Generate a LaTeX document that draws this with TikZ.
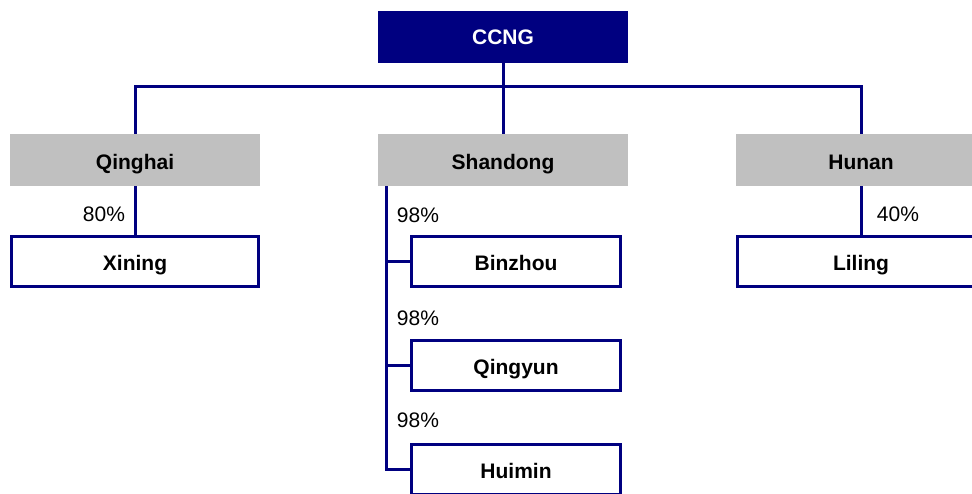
\documentclass[tikz,border=0pt]{standalone}
\usepackage{fontspec}
\setmainfont{Liberation Sans}
\definecolor{ccnavy}{RGB}{0,0,128}
\definecolor{ccgray}{RGB}{192,192,192}
\tikzset{
  topbox/.style={rectangle, fill=ccnavy, text=white, minimum width=250pt, minimum height=52pt, inner sep=0pt, text height=15.2pt, text depth=0pt, font=\fontsize{21}{25}\selectfont\bfseries},
  provbox/.style={rectangle, fill=ccgray, minimum width=250pt, minimum height=52pt, inner sep=0pt, text height=19.6pt, text depth=0pt, font=\fontsize{21}{25}\selectfont\bfseries},
  citybox/.style={rectangle, draw=ccnavy, line width=3pt, fill=white, minimum width=#1, minimum height=50pt, inner sep=0pt, text height=18pt, text depth=0pt, font=\fontsize{21}{25}\selectfont\bfseries},
  citybox/.default=247pt,
  link/.style={draw=ccnavy, line width=3pt},
  share/.style={inner sep=0pt, font=\fontsize{21}{25}\selectfont}
}
\begin{document}
\begin{tikzpicture}[x=1pt, y=-1pt]
  \useasboundingbox (0,0) rectangle (972,493);
  \clip (0,0) rectangle (972,493);
  % boxes
  \node[topbox] (ccng) at (503,37) {CCNG};
  \node[provbox] (qinghai) at (135,160) {Qinghai};
  \node[provbox] (shandong) at (503,160) {Shandong};
  \node[provbox] (hunan) at (861,160) {Hunan};
  \node[citybox] (xining) at (135,261.5) {Xining};
  \node[citybox] (liling) at (861,261.5) {Liling};
  \node[citybox=209pt] (binzhou) at (516,261.5) {Binzhou};
  \node[citybox=209pt] (qingyun) at (516,365) {Qingyun};
  \node[citybox=209pt] (huimin) at (516,469) {Huimin};
  \coordinate (bus) at (503,86);
  \coordinate (spine) at (386,186);

  % links
  \draw[link] (ccng) -- (shandong);
  \draw[link] (qinghai.north) |- (bus) -| (hunan.north);
  \draw[link] (qinghai) -- (xining);
  \draw[link] (hunan) -- (liling);
  \draw[link] (spine) |- (huimin.west);
  \draw[link] (spine |- binzhou.west) -- (binzhou.west);
  \draw[link] (spine |- qingyun.west) -- (qingyun.west);

  % shares
  \node[share] (p1) at (104,214) {80\%};
  \node[share] (p2) at (898,214) {40\%};
  \node[share] (p3) at (418,215) {98\%};
  \node[share] (p4) at (418,318) {98\%};
  \node[share] (p5) at (418,420) {98\%};
\end{tikzpicture}
\end{document}
